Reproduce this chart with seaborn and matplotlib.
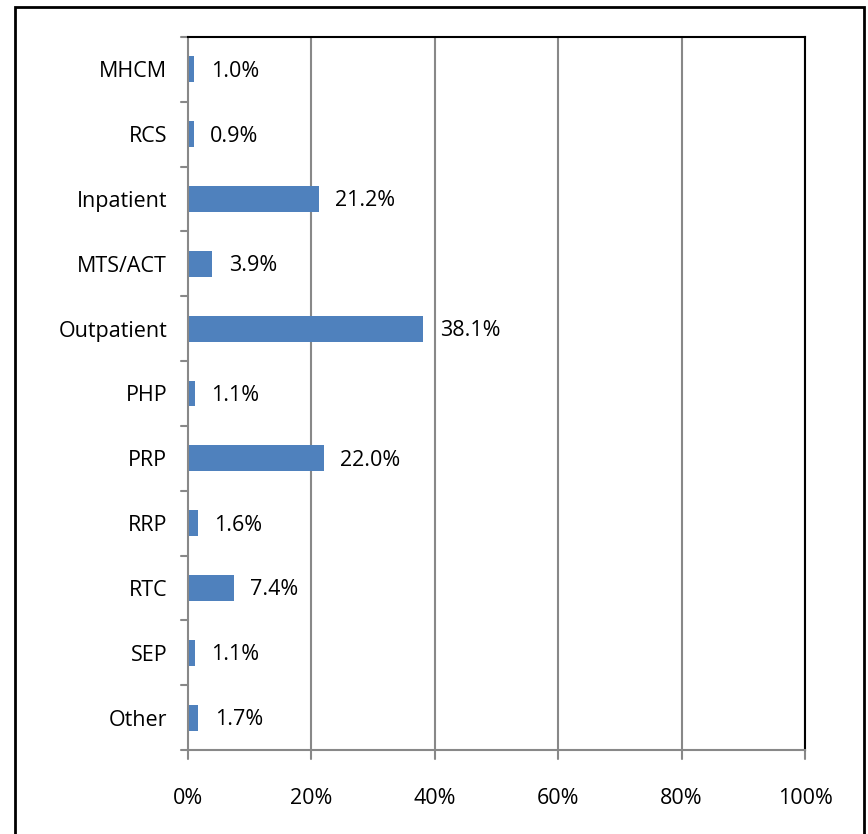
import matplotlib
matplotlib.use("Agg")
import matplotlib.pyplot as plt
import seaborn as sns
import pandas as pd
from matplotlib.patches import Rectangle

categories = ["MHCM", "RCS", "Inpatient", "MTS/ACT", "Outpatient", "PHP",
              "PRP", "RRP", "RTC", "SEP", "Other"]
values = [1.0, 0.9, 21.2, 3.9, 38.1, 1.1, 22.0, 1.6, 7.4, 1.1, 1.7]
xticks = [0, 20, 40, 60, 80, 100]
xticklabels = ["0%", "20%", "40%", "60%", "80%", "100%"]

df = pd.DataFrame({"cat": categories, "val": values})

sns.set_theme(style="white")
plt.rcParams["font.family"] = ["Open Sans", "DejaVu Sans"]
plt.rcParams["text.color"] = "black"
plt.rcParams["xtick.color"] = "black"
plt.rcParams["ytick.color"] = "black"

FS = 15.5

fig = plt.figure(figsize=(8.68, 8.34), dpi=100)
W, H = 868, 834
ax = fig.add_axes([188 / W, 1 - 750 / H, (805 - 188) / W, (750 - 37) / H])

sns.barplot(data=df, x="val", y="cat", order=categories, color="#4F81BD",
            width=0.4, saturation=1, ax=ax, edgecolor="none")

ax.set_xlim(0, 100)
ax.set_ylim(len(categories) - 0.5, -0.5)
ax.set_xlabel("")
ax.set_ylabel("")
ax.set_xticks(xticks)
ax.set_xticklabels(xticklabels, fontsize=FS, color="black")
ax.set_yticks(range(len(categories)))
ax.set_yticklabels(categories, fontsize=FS, color="black")
ax.tick_params(axis="y", length=0, pad=15)
ax.tick_params(axis="x", length=0, pad=27)

# gridlines
for t in xticks[1:]:
    ax.axvline(t, color="#888888", lw=1.5, zorder=0)
# boundary ticks on y axis
for b in [i - 0.5 for i in range(len(categories) + 1)]:
    ax.plot([-0.012, 0], [b, b], transform=ax.get_yaxis_transform(),
            color="#888888", lw=1.5, clip_on=False)
for t in xticks:
    ax.plot([t, t], [0, -0.012], transform=ax.get_xaxis_transform(),
            color="#888888", lw=1.5, clip_on=False)

for s in ["left", "bottom"]:
    ax.spines[s].set_color("#888888")
    ax.spines[s].set_linewidth(1.5)
for s in ["top", "right"]:
    ax.spines[s].set_color("black")
    ax.spines[s].set_linewidth(1.5)

for i, v in enumerate(values):
    ax.text(v + 2.7, i + 0.03, f"{v:.1f}%", va="center", ha="left",
            fontsize=FS, color="black")

fig.patches.append(Rectangle((15 / W, -0.05), (864 - 15) / W, 1.05 - 7 / H,
                             transform=fig.transFigure, fill=False,
                             edgecolor="black", lw=2))

fig.savefig("out.png", dpi=100)
